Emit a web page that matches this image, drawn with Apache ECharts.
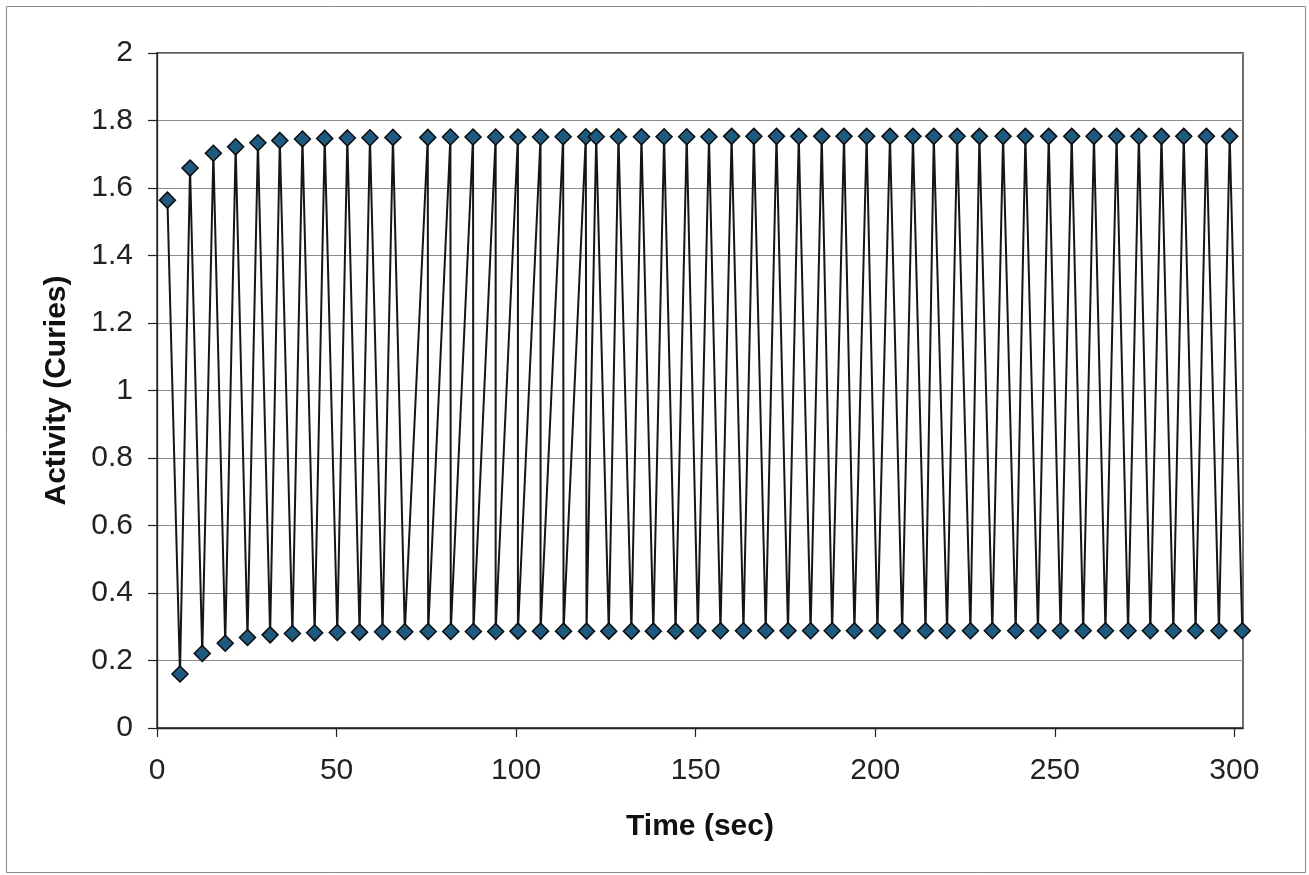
<!DOCTYPE html>
<html>
<head>
<meta charset="utf-8">
<script src="https://cdn.jsdelivr.net/npm/echarts@6/dist/echarts.min.js"></script>
<style>
html,body{margin:0;padding:0;background:#fff;}
#chart{width:1309px;height:875px;}
</style>
</head>
<body>
<div id="chart"></div>
<script>
// Time (sec) of each sample
const timeSec = [
  2.9, 6.4, 9.2, 12.6, 15.7, 19.0, 21.9, 25.2, 28.1, 31.5,
  34.2, 37.7, 40.5, 43.9, 46.7, 50.2, 53.0, 56.4, 59.3, 62.8,
  65.7, 69.0, 75.4, 75.5, 81.7, 81.8, 88.0, 88.1, 94.3, 94.3,
  100.5, 100.5, 106.8, 106.8, 113.1, 113.2, 119.4, 119.6, 122.3, 125.8,
  128.5, 132.1, 134.9, 138.2, 141.2, 144.4, 147.5, 150.6, 153.7, 156.9,
  160.0, 163.3, 166.2, 169.5, 172.5, 175.7, 178.7, 182.0, 185.1, 188.0,
  191.3, 194.2, 197.6, 200.6, 204.1, 207.5, 210.5, 214.0, 216.3, 220.0,
  222.8, 226.5, 229.0, 232.6, 235.6, 239.1, 241.8, 245.3, 248.3, 251.6,
  254.7, 257.9, 260.9, 264.1, 267.2, 270.4, 273.4, 276.6, 279.7, 283.0,
  285.9, 289.2, 292.2, 295.7, 298.7, 302.2
];
// Activity (Curies) of each sample
const activity = [
  1.564, 0.160, 1.659, 0.221, 1.703, 0.251, 1.722, 0.268, 1.734, 0.276,
  1.741, 0.280, 1.745, 0.282, 1.747, 0.283, 1.748, 0.284, 1.749, 0.285,
  1.750, 0.285, 1.750, 0.286, 1.751, 0.286, 1.751, 0.286, 1.751, 0.286,
  1.751, 0.287, 1.751, 0.287, 1.752, 0.287, 1.752, 0.287, 1.752, 0.287,
  1.752, 0.287, 1.752, 0.287, 1.752, 0.287, 1.752, 0.288, 1.752, 0.288,
  1.753, 0.288, 1.753, 0.288, 1.753, 0.288, 1.753, 0.288, 1.753, 0.288,
  1.753, 0.288, 1.753, 0.288, 1.753, 0.288, 1.753, 0.288, 1.753, 0.288,
  1.753, 0.288, 1.753, 0.288, 1.753, 0.288, 1.753, 0.288, 1.753, 0.288,
  1.753, 0.288, 1.753, 0.288, 1.753, 0.288, 1.753, 0.288, 1.753, 0.288,
  1.753, 0.288, 1.753, 0.288, 1.753, 0.288
];
const xTicks = [0, 50, 100, 150, 200, 250, 300];
const xTitle = 'Time (sec)';
const yTitle = 'Activity (Curies)';

const points = timeSec.map((t, i) => [t, activity[i]]);
const FONT = 'Liberation Sans, Arial, sans-serif';

const chart = echarts.init(document.getElementById('chart'), null, {renderer: 'canvas'});
chart.setOption({
  animation: false,
  backgroundColor: '#fff',
  graphic: [{
    type: 'rect',
    shape: {x: 6.5, y: 6.5, width: 1299, height: 866},
    style: {fill: 'none', stroke: '#8a8a8a', lineWidth: 1},
    silent: true, z: -1
  }],
  grid: {
    left: 157, right: 66, top: 53, bottom: 147,
    show: true, borderColor: '#222', borderWidth: 1.3, backgroundColor: '#fff'
  },
  xAxis: {
    type: 'value',
    min: 0, max: 302.4, interval: 50,
    name: xTitle,
    nameLocation: 'middle',
    nameGap: 84,
    nameTextStyle: {fontFamily: FONT, fontSize: 30, fontWeight: 'bold', color: '#111'},
    axisLine: {show: true, onZero: false, lineStyle: {color: '#222', width: 1.3}},
    axisTick: {show: true, length: 9, inside: false, customValues: xTicks, lineStyle: {color: '#222', width: 1.2}},
    axisLabel: {customValues: xTicks, fontFamily: FONT, fontSize: 30, color: '#222', margin: 28},
    splitLine: {show: false}
  },
  yAxis: {
    type: 'value',
    min: 0, max: 2, interval: 0.2,
    name: yTitle,
    nameLocation: 'middle',
    nameGap: 85,
    nameRotate: 90,
    nameTextStyle: {fontFamily: FONT, fontSize: 30, fontWeight: 'bold', color: '#111'},
    axisLine: {show: true, lineStyle: {color: '#222', width: 1.3}},
    axisTick: {show: true, length: 9, inside: false, lineStyle: {color: '#222', width: 1.2}},
    axisLabel: {fontFamily: FONT, fontSize: 30, color: '#222', margin: 24,
      formatter: v => String(Math.round(v * 10) / 10)},
    splitLine: {show: true, lineStyle: {color: '#8c8c8c', width: 1.2}}
  },
  series: [{
    type: 'line',
    data: points,
    clip: false,
    symbol: 'diamond',
    symbolSize: 16,
    showAllSymbol: true,
    lineStyle: {color: '#151515', width: 2},
    itemStyle: {color: '#1e5a80', borderColor: '#0b0b0b', borderWidth: 1.5},
    emphasis: {disabled: true}
  }]
});
</script>
</body>
</html>
